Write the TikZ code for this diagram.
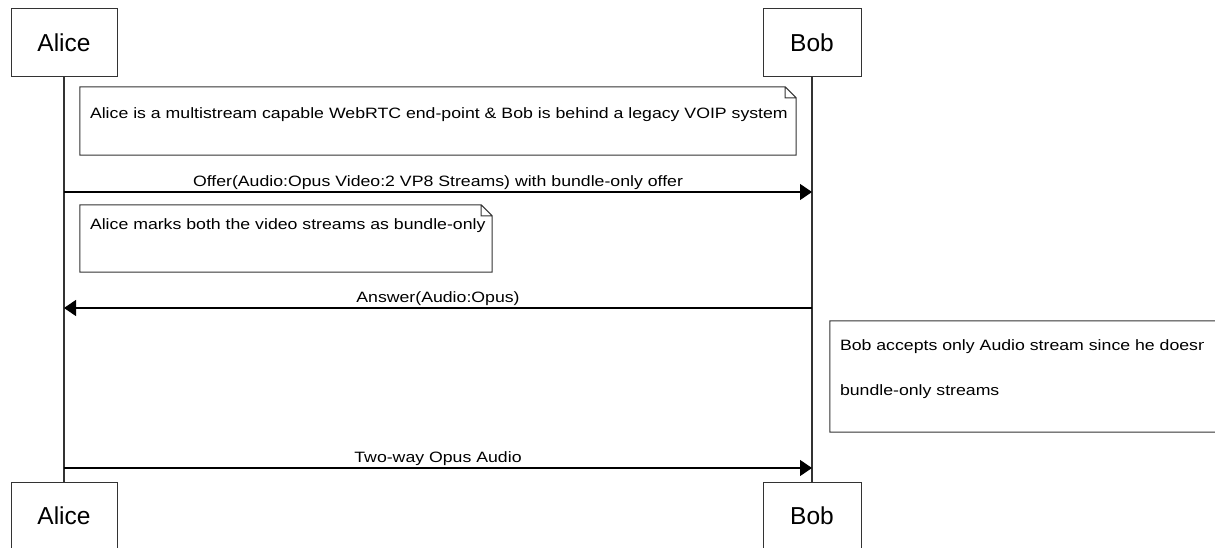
\documentclass[tikz,border=0pt]{standalone}
\usepackage{fontspec}
\setmainfont{Liberation Sans}
\newfontfamily\labelfont{Liberation Sans}[FakeStretch=1.18]
\usetikzlibrary{positioning}
\usetikzlibrary{arrows.meta}

\begin{document}
\begin{tikzpicture}
  [x=1pt,y=-1pt,
  actor/.style={draw=black!80,line width=1pt,inner sep=0pt,minimum height=68pt,font=\fontsize{24.5}{28}\selectfont},
  life/.style={draw=black!80,line width=1.2pt},
  msg/.style={draw=black,line width=1.2pt,-{Triangle[length=12pt,width=16pt]}},
  msglabel/.style={above=1.5pt,font=\labelfont\fontsize{15}{18}\selectfont,inner sep=0pt},
  notebox/.style={draw=black!80,line width=1pt},
  note/.style={inner sep=0pt},
  notetext/.style={anchor=west,inner sep=0pt,align=left,font=\labelfont\fontsize{15}{18}\selectfont}]
  \useasboundingbox (0,0) rectangle (1215,548);
  \clip (0,0) rectangle (1215,548);

  % participants
  \node[actor,minimum width=106pt] (alicetop) at (64,43) {Alice};
  \node[actor,minimum width=98pt] (bobtop) at (812,43) {Bob};
  \node[actor,minimum width=106pt] (alicebot) at (64,516) {Alice};
  \node[actor,minimum width=98pt] (bobbot) at (812,516) {Bob};

  \draw[life] (alicetop) -- (alicebot);
  \draw[life] (bobtop) -- (bobbot);

  % notes
  \node[note,minimum width=716pt,minimum height=68pt] (note1) at (438,121) {};
  \node[note,minimum width=412pt,minimum height=67pt] (note2) at (286,238.5) {};
  \node[note,minimum width=400pt,minimum height=111pt] (note3) at (1030,376.5) {};
  \foreach \n in {note1,note2,note3}
    \draw[notebox] (\n.north west) -- ([xshift=-11pt]\n.north east)
      -- ([yshift=-11pt]\n.north east) -- (\n.south east) -- (\n.south west) -- cycle
      ([xshift=-11pt]\n.north east) |- ([yshift=-11pt]\n.north east);

  \node[notetext] (note1txt) at ([xshift=10pt,yshift=-28pt]note1.north west)
    {Alice is a multistream capable WebRTC end-point \& Bob is behind a legacy VOIP system};
  \node[notetext] (note2txt) at ([xshift=10pt,yshift=-21pt]note2.north west)
    {Alice marks both the video streams as bundle-only};
  \begin{scope}
    \clip (note3.north west) rectangle (1203,548);
    \node[notetext,anchor=north west,font=\labelfont\fontsize{15}{45}\selectfont] (note3txt) at ([xshift=10pt,yshift=-19pt]note3.north west)
      {Bob accepts only Audio stream since he doesn't support\\bundle-only streams};
  \end{scope}

  % messages
  \coordinate (offerA) at (64,192);
  \coordinate (offerB) at (812,192);
  \coordinate (answerB) at (812,308);
  \coordinate (answerA) at (64,308);
  \coordinate (mediaA) at (64,468);
  \coordinate (mediaB) at (812,468);

  \draw[msg] (offerA) -- node[msglabel] {Offer(Audio:Opus Video:2 VP8 Streams) with bundle-only offer} (offerB);
  \draw[msg] (answerB) -- node[msglabel] {Answer(Audio:Opus)} (answerA);
  \draw[msg] (mediaA) -- node[msglabel] {Two-way Opus Audio} (mediaB);

\end{tikzpicture}
\end{document}
